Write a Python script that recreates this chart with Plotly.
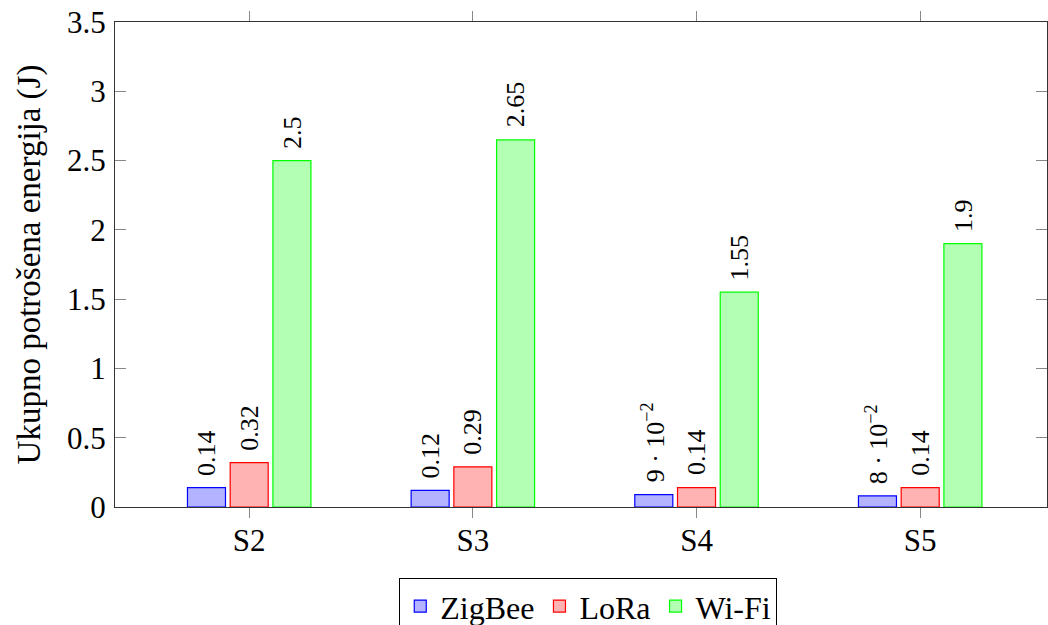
import plotly.graph_objects as go

# Scenarios on the x axis
scenarios = ["S2", "S3", "S4", "S5"]

# Total consumed energy per technology (J)
zigbee = [0.14, 0.12, 0.09, 0.08]
lora = [0.32, 0.29, 0.14, 0.14]
wifi = [2.5, 2.65, 1.55, 1.9]

# Value labels printed above the bars
zigbee_labels = ["0.14", "0.12", "9 · 10<sup>−2</sup>", "8 · 10<sup>−2</sup>"]
lora_labels = ["0.32", "0.29", "0.14", "0.14"]
wifi_labels = ["2.5", "2.65", "1.55", "1.9"]

y_ticks = [0, 0.5, 1, 1.5, 2, 2.5, 3, 3.5]
y_tick_text = ["0", "0.5", "1", "1.5", "2", "2.5", "3", "3.5"]

FONT = "Liberation Serif"

series = [
    ("ZigBee", zigbee, zigbee_labels, "#b3b3ff", "#0000ff"),
    ("LoRa", lora, lora_labels, "#ffb3b3", "#ff0000"),
    ("Wi-Fi", wifi, wifi_labels, "#b3ffb3", "#00ff00"),
]

BARGAP = 0.427
slot = (1 - BARGAP) / len(series)

fig = go.Figure()
for k, (name, vals, labels, fill, edge) in enumerate(series):
    fig.add_trace(go.Bar(
        name=name,
        x=scenarios,
        y=vals,
        marker=dict(color=fill, line=dict(color=edge, width=1.2)),
    ))
    # rotated value labels sitting a little above each bar
    offset = (k - (len(series) - 1) / 2) * slot
    for i, (v, lab) in enumerate(zip(vals, labels)):
        fig.add_annotation(
            x=i + offset, y=v, xref="x", yref="y",
            text=lab, textangle=-90, showarrow=False,
            xanchor="center", yanchor="bottom", yshift=10,
            font=dict(family=FONT, size=26, color="black"),
        )

fig.update_layout(
    width=1048,
    height=625,
    margin=dict(l=115, r=1, t=22, b=118, autoexpand=False),
    paper_bgcolor="white",
    plot_bgcolor="white",
    barmode="group",
    bargap=BARGAP,
    bargroupgap=0.11,
    font=dict(family=FONT, size=31, color="black"),
    showlegend=True,
    legend=dict(
        orientation="h",
        x=0.305,
        y=-0.146,
        xanchor="left",
        yanchor="top",
        bordercolor="black",
        borderwidth=1,
        bgcolor="white",
        font=dict(family=FONT, size=32),
        itemwidth=30,
        tracegroupgap=0,
    ),
)

fig.update_xaxes(
    range=[-0.6, 3.567],
    showline=True,
    linecolor="#333333",
    linewidth=1.2,
    mirror="ticks",
    ticks="outside",
    ticklen=10,
    tickcolor="#888888",
    tickwidth=1,
    showgrid=False,
    zeroline=False,
    tickfont=dict(family=FONT, size=31),
    ticklabelstandoff=-4,
)

fig.update_yaxes(
    range=[0, 3.5],
    tickvals=y_ticks,
    ticktext=y_tick_text,
    showline=True,
    linecolor="#333333",
    linewidth=1.2,
    mirror="ticks",
    ticks="inside",
    ticklen=11,
    tickcolor="#888888",
    tickwidth=1,
    showgrid=False,
    zeroline=False,
    tickfont=dict(family=FONT, size=31),
    ticklabelstandoff=2,
    title=dict(text="Ukupno potrošena energija (J)", font=dict(family=FONT, size=33), standoff=16),
)

fig.write_html("out.html")
